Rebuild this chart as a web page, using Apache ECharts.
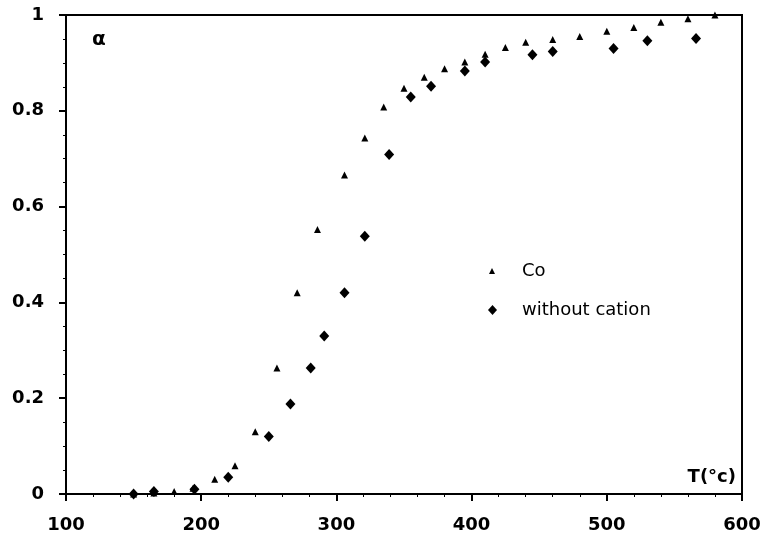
<!DOCTYPE html>
<html>
<head>
<meta charset="utf-8">
<script src="https://cdn.jsdelivr.net/npm/echarts@6/dist/echarts.min.js"></script>
<style>
  html, body { margin: 0; padding: 0; background: #fff; }
  #chart { width: 764px; height: 550px; }
</style>
</head>
<body>
<div id="chart"></div>
<script>
var chart = echarts.init(document.getElementById("chart"));

// Co (triangles)
var coT = [150, 165, 180, 194, 210, 225, 240, 256, 271, 286, 306, 321, 335, 350, 365, 380, 395, 410, 425, 440, 460, 480, 500, 520, 540, 560, 580];
var coA = [0, 0.002, 0.005, 0.012, 0.031, 0.059, 0.130, 0.263, 0.420, 0.552, 0.666, 0.743, 0.808, 0.847, 0.870, 0.888, 0.902, 0.918, 0.932, 0.943, 0.949, 0.955, 0.966, 0.974, 0.985, 0.992, 1.0];

// without cation (diamonds)
var noT = [150, 165, 195, 220, 250, 266, 281, 291, 306, 321, 339, 355, 370, 395, 410, 445, 460, 505, 530, 566];
var noA = [0, 0.005, 0.01, 0.035, 0.120, 0.188, 0.263, 0.330, 0.420, 0.538, 0.709, 0.829, 0.851, 0.883, 0.902, 0.917, 0.924, 0.930, 0.946, 0.951];

function pairs(xs, ys) {
    var out = [];
    for (var i = 0; i < xs.length; i++) out.push([xs[i], ys[i]]);
    return out;
}

var font = "DejaVu Sans";

var option = {
    animation: false,
    backgroundColor: '#fff',
    grid: {
        left: 66, right: 22, top: 15, bottom: 56,
        show: true,
        borderColor: '#000',
        borderWidth: 2
    },
    legend: [
        {
            data: ['Co'],
            orient: 'vertical',
            left: 484, top: 257,
            icon: 'triangle',
            itemWidth: 6, itemHeight: 6,
            itemStyle: { opacity: 1 },
            textStyle: { fontFamily: font, fontSize: 18, color: '#000', padding: [0, 0, 0, 22] }
        },
        {
            data: ['without cation'],
            orient: 'vertical',
            left: 483, top: 296,
            icon: 'diamond',
            itemWidth: 9, itemHeight: 10,
            itemStyle: { opacity: 1 },
            textStyle: { fontFamily: font, fontSize: 18, color: '#000', padding: [0, 0, 0, 20] }
        }
    ],
    xAxis: {
        type: 'value',
        min: 100, max: 600, interval: 100,
        axisLine: { lineStyle: { color: '#000', width: 2 } },
        axisTick: { length: 7, lineStyle: { color: '#000', width: 2 } },
        minorTick: { show: true, splitNumber: 5, length: 3, lineStyle: { color: '#000', width: 1 } },
        splitLine: { show: false },
        axisLabel: { color: '#000', fontFamily: font, fontWeight: 'bold', fontSize: 18, margin: 22 }
    },
    yAxis: {
        type: 'value',
        min: 0, max: 1, interval: 0.2,
        axisLine: { lineStyle: { color: '#000', width: 2 } },
        axisTick: { length: 7, lineStyle: { color: '#000', width: 2 } },
        minorTick: { show: true, splitNumber: 4, length: 3, lineStyle: { color: '#000', width: 1 } },
        splitLine: { show: false },
        axisLabel: { color: '#000', fontFamily: font, fontWeight: 'bold', fontSize: 18, margin: 22 }
    },
    graphic: [
        { type: 'text', left: 92, top: 30, style: { text: 'α', font: 'bold 20px DejaVu Sans', fill: '#000' } },
        { type: 'text', right: 28, top: 468, style: { text: 'T(°c)', font: 'bold 18px DejaVu Sans', fill: '#000' } }
    ],
    series: [
        {
            name: 'without cation',
            type: 'scatter',
            symbol: 'diamond',
            symbolSize: [10, 11],
            itemStyle: { color: '#000', opacity: 1 },
            data: pairs(noT, noA)
        },
        {
            name: 'Co',
            type: 'scatter',
            symbol: 'triangle',
            symbolSize: 7,
            itemStyle: { color: '#000', opacity: 1 },
            data: pairs(coT, coA)
        }
    ]
};
chart.setOption(option);
</script>
</body>
</html>
